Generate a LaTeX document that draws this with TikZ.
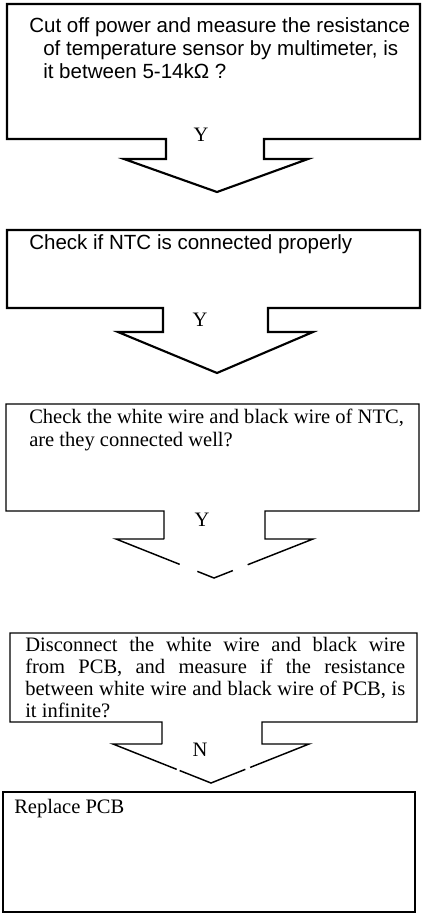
\documentclass[tikz,border=0pt]{standalone}
\usepackage{fontspec}
\setmainfont{Liberation Serif}
\newfontfamily\arialfont{Liberation Sans}
\usetikzlibrary{calc}

\begin{document}
\begin{tikzpicture}[
        x=0.75pt, y=-0.75pt,
        thickline/.style={draw=black,line width=1.6pt,line join=miter},
        thinline/.style={draw=black,line width=1.1pt,line join=miter},
        sanstext/.style={font=\arialfont\fontsize{15.4}{17.3}\selectfont,
                         inner sep=0pt,anchor=north west,align=left},
        sertext/.style={font=\fontsize{15.4}{17.3}\selectfont,
                        inner sep=0pt,anchor=north west,align=left},
        yn/.style={font=\fontsize{15.4}{17.3}\selectfont,inner sep=0pt}
      ]
        \useasboundingbox (0,0) rectangle (425,915);
        % arrow tips
        \coordinate (tipA) at (217,192);
        \coordinate (tipB) at (217,373);
        \coordinate (tipC) at (214,578);
        \coordinate (tipD) at (211,783);
        % step 1 with arrow
        \draw[thickline] (166,139) -- (7,139) -- (7,4) -- (420,4) -- (420,139)
          -- (264,139) -- (264,159) -- (308,159) -- (tipA) -- (124,159)
          -- (166,159) -- cycle;
        \node[sanstext] (cut) at (29,17)
          {Cut off power and measure the resistance\\
           \hspace*{10.5pt}of temperature sensor by multimeter, is\\
           \hspace*{10.5pt}it between 5-14kΩ ?};
        \node[yn] (yA) at (201,135) {Y};
        % step 2 with arrow
        \draw[thickline] (163,308) -- (7,308) -- (7,230) -- (420,230) -- (420,308)
          -- (268,308) -- (268,332) -- (313,332) -- (tipB) -- (118,332)
          -- (163,332) -- cycle;
        \node[sanstext] (ntc) at (29,234) {Check if NTC is connected properly};
        \node[yn] (yB) at (200,320) {Y};
        % step 3 with broken arrow
        \coordinate (rC) at (313,539);
        \coordinate (lC) at (116,539);
        \draw[thinline] (164,539) -- (164,511) -- (6,511) -- (6,404) -- (419,404)
          -- (419,511) -- (265,511) -- (265,539) -- (rC)
          -- ($(rC)!0.66!(tipC)$) ($(rC)!0.81!(tipC)$) -- (tipC)
          -- ($(tipC)!0.17!(lC)$) ($(tipC)!0.35!(lC)$) -- (lC) -- (164,539);
        \node[sertext] (wire) at (29,409)
          {Check the white wire and black wire of NTC,\\
           are they connected well?};
        \node[yn] (yC) at (202,520) {Y};
        % step 4 with broken arrow
        \coordinate (rD) at (309,744);
        \coordinate (lD) at (113,744);
        \draw[thinline] (162,744) -- (162,722) -- (10,722) -- (10,633) -- (417,633)
          -- (417,722) -- (262,722) -- (262,744) -- (rD)
          -- ($(rD)!0.60!(tipD)$) ($(rD)!0.65!(tipD)$) -- (tipD)
          -- ($(tipD)!0.32!(lD)$) ($(tipD)!0.35!(lD)$) -- (lD) -- (162,744);
        \node[sertext,font=\fontsize{15.4}{16.5}\selectfont] (pcb) at (25,637)
          {\makebox[285pt][s]{Disconnect the white wire and black wire}\\
           \makebox[285pt][s]{from PCB, and measure if the resistance}\\
           \makebox[285pt][s]{between white wire and black wire of PCB, is}\\
           it infinite?};
        \node[yn] (nD) at (200,750) {N};
        % last step
        \draw[thinline] (3,792) rectangle (415,912);
        \node[sertext] (rep) at (14,799) {Replace PCB};
      \end{tikzpicture}
\end{document}
